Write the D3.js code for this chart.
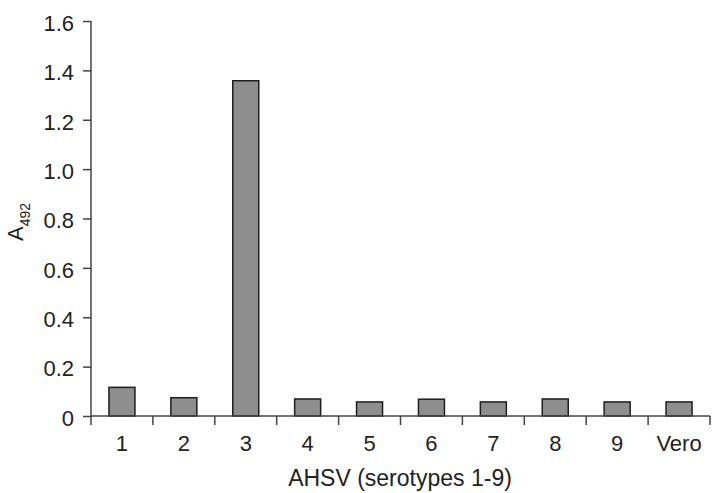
<!DOCTYPE html>
<html>
<head>
<meta charset="utf-8">
<script src="https://cdn.jsdelivr.net/npm/d3@7"></script>
<style>
  body { margin: 0; background: #fff; }
  text { font-family: "Liberation Sans", Arial, sans-serif; fill: #222; }
</style>
</head>
<body>
<div id="chart"></div>
<script>
const categories = ["1", "2", "3", "4", "5", "6", "7", "8", "9", "Vero"];
const values = [0.116, 0.074, 1.358, 0.069, 0.057, 0.068, 0.057, 0.069, 0.057, 0.057];
const yTicks = [0, 0.2, 0.4, 0.6, 0.8, 1.0, 1.2, 1.4, 1.6];

const W = 713, H = 493;
const margin = { top: 21, right: 3, bottom: 77, left: 91 };
const width = W - margin.left - margin.right;
const height = H - margin.top - margin.bottom;

const svg = d3.select("#chart").append("svg")
  .attr("width", W).attr("height", H);
const g = svg.append("g")
  .attr("transform", `translate(${margin.left},${margin.top})`);

const x = d3.scaleBand().domain(categories).range([0, width]).paddingInner(0).paddingOuter(0);
const y = d3.scaleLinear().domain([0, 1.6]).range([height, 0]);

const axisColor = "#444";
const fs = "22px";

// bars
const bw = x.bandwidth() * 0.42;
g.selectAll("rect.bar")
  .data(values)
  .join("rect")
  .attr("class", "bar")
  .attr("x", (d, i) => x(categories[i]) + (x.bandwidth() - bw) / 2)
  .attr("y", d => y(d))
  .attr("width", bw)
  .attr("height", d => y(0) - y(d))
  .attr("fill", "#8e8e8e")
  .attr("stroke", "#1e1e1e")
  .attr("stroke-width", 1.5);

// y axis
const yAxis = g.append("g")
  .call(d3.axisLeft(y).tickValues(yTicks).tickSize(8).tickPadding(9)
    .tickFormat(d => d === 0 ? "0" : d3.format(".1f")(d)));
yAxis.select(".domain").attr("stroke", axisColor).attr("stroke-width", 1.5).attr("d", `M0,${height}V0`);
yAxis.selectAll(".tick line").attr("stroke", axisColor).attr("stroke-width", 1.5);
yAxis.selectAll(".tick text").style("font-size", fs).attr("dy", "0.42em").attr("fill", "#222");

// x axis: ticks at category boundaries
const xAxisG = g.append("g").attr("transform", `translate(0,${height})`);
xAxisG.append("line")
  .attr("x1", 0).attr("x2", width)
  .attr("stroke", axisColor).attr("stroke-width", 1.5);
const bounds = categories.map(c => x(c)).concat([width]);
xAxisG.selectAll("line.bt")
  .data(bounds)
  .join("line")
  .attr("class", "bt")
  .attr("x1", d => d).attr("x2", d => d)
  .attr("y1", 0).attr("y2", 9)
  .attr("stroke", axisColor).attr("stroke-width", 1.5);
xAxisG.selectAll("text.cl")
  .data(categories)
  .join("text")
  .attr("class", "cl")
  .attr("x", d => x(d) + x.bandwidth() / 2)
  .attr("y", 35)
  .attr("text-anchor", "middle")
  .style("font-size", fs)
  .text(d => d);

// axis titles
svg.append("text")
  .attr("x", 400)
  .attr("y", 486)
  .attr("text-anchor", "middle")
  .style("font-size", "23px")
  .text("AHSV (serotypes 1-9)");

const yl = svg.append("text")
  .attr("transform", `translate(23,222) rotate(-90)`)
  .attr("text-anchor", "middle")
  .style("font-size", fs);
yl.append("tspan").text("A");
yl.append("tspan").attr("dy", 7).style("font-size", "14px").text("492");
</script>
</body>
</html>
